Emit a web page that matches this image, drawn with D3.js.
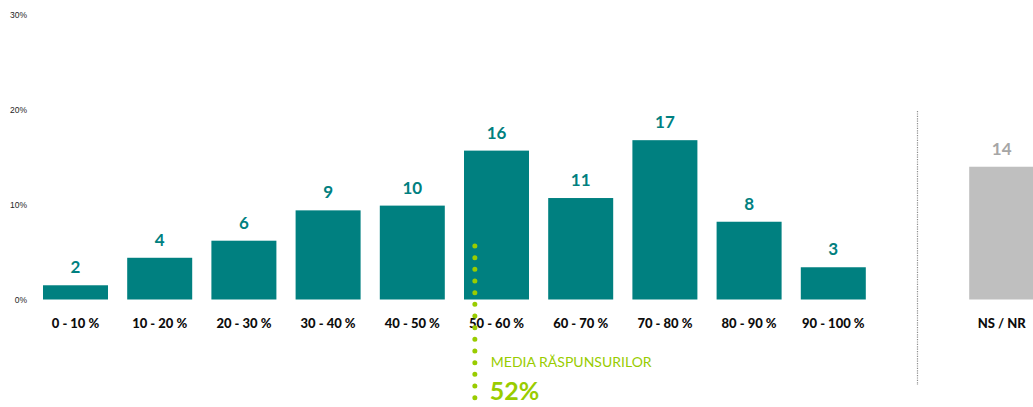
<!DOCTYPE html>
<html>
<head>
<meta charset="utf-8">
<script src="https://cdn.jsdelivr.net/npm/d3@7"></script>
<style>
	body { margin: 0; background: #fff; }
	svg { display: block; }
</style>
</head>
<body>
<svg id="chart"></svg>
<script>
// date
var categories = ["0 - 10 %", "10 - 20 %", "20 - 30 %", "30 - 40 %", "40 - 50 %", "50 - 60 %", "60 - 70 %", "70 - 80 %", "80 - 90 %", "90 - 100 %"]
var values = [1.5, 4.4, 6.2, 9.4, 9.9, 15.7, 10.7, 16.8, 8.2, 3.4]
var labels = [2, 4, 6, 9, 10, 16, 11, 17, 8, 3]
var nsCategory = "NS / NR"
var nsValue = 14
var nsLabel = 14
var yTicks = [0, 10, 20, 30]
var meanValue = 52
var meanTitle = "MEDIA RĂSPUNSURILOR"

var width = 1033,
	height = 407
var teal = "#008080",
	lime = "#99cc00",
	grey = "#bfbfbf"

var svg = d3.select("#chart")
	.attr("width", width)
	.attr("height", height)
	.style("font-family", "Lato, 'Open Sans', sans-serif")

// 10 categorii + un loc gol + NS / NR
var slots = categories.concat(["gap", nsCategory])
var x = d3.scaleBand()
	.domain(slots)
	.range([43, 1034.2])
	.paddingInner(0.228)
	.paddingOuter(0)

var y = d3.scaleLinear()
	.domain([0, 30])
	.range([299.5, 15])

// axa y, doar etichetele
var yAxis = svg.append("g")
	.attr("transform", "translate(27,0)")
	.call(d3.axisLeft(y).tickValues(yTicks).tickSize(0).tickPadding(0)
		.tickFormat(function (d) { return d + "%"; }))
yAxis.select(".domain").remove()
yAxis.selectAll("text")
	.style("font-family", "'Liberation Sans', Arial, sans-serif")
	.style("font-size", "8.5px")
	.attr("fill", "#262626")

var bars = categories.map(function (c, i) {
	return { cat: c, value: values[i], label: labels[i] }
})

svg.selectAll(".bar")
	.data(bars)
	.enter().append("rect")
	.attr("class", "bar")
	.attr("x", function (d) { return x(d.cat); })
	.attr("y", function (d) { return y(d.value); })
	.attr("width", x.bandwidth())
	.attr("height", function (d) { return y(0) - y(d.value); })
	.attr("fill", teal)

svg.selectAll(".val")
	.data(bars)
	.enter().append("text")
	.attr("class", "val")
	.attr("x", function (d) { return x(d.cat) + x.bandwidth() / 2; })
	.attr("y", function (d) { return y(d.value) - 12; })
	.attr("text-anchor", "middle")
	.style("font-size", "17px")
	.style("font-weight", "bold")
	.attr("fill", teal)
	.text(function (d) { return d.label; })

// NS / NR
svg.append("rect")
	.attr("x", x(nsCategory))
	.attr("y", y(nsValue))
	.attr("width", x.bandwidth())
	.attr("height", y(0) - y(nsValue))
	.attr("fill", grey)

svg.append("text")
	.attr("x", x(nsCategory) + x.bandwidth() / 2)
	.attr("y", y(nsValue) - 12)
	.attr("text-anchor", "middle")
	.style("font-size", "17px")
	.style("font-weight", "bold")
	.attr("fill", "#a6a6a6")
	.text(nsLabel)

// etichete categorii
svg.selectAll(".cat")
	.data(categories.concat([nsCategory]))
	.enter().append("text")
	.attr("class", "cat")
	.attr("x", function (d) { return x(d) + x.bandwidth() / 2; })
	.attr("y", 328)
	.attr("text-anchor", "middle")
	.style("font-size", "13px")
	.style("font-weight", "900")
	.attr("fill", "#0d0d0d")
	.text(function (d) { return d; })

// separator punctat
var sepX = (x(categories[categories.length - 1]) + x.bandwidth() + x(nsCategory)) / 2
svg.append("line")
	.attr("x1", sepX).attr("x2", sepX)
	.attr("y1", 111).attr("y2", 385)
	.attr("stroke", "#8c8c8c")
	.attr("stroke-width", 1.2)
	.attr("stroke-dasharray", "1.2 1.2")

// media raspunsurilor
var xMean = d3.scaleLinear()
	.domain([0, 100])
	.range([x(categories[0]), x(categories[categories.length - 1]) + x.bandwidth()])
var mx = xMean(meanValue) + 4
svg.append("line")
	.attr("x1", mx).attr("x2", mx)
	.attr("y1", 246).attr("y2", height + 10)
	.attr("stroke", lime)
	.attr("stroke-width", 5)
	.attr("stroke-linecap", "round")
	.attr("stroke-dasharray", "0 11.67")

svg.append("text")
	.attr("x", mx + 16)
	.attr("y", 367)
	.style("font-size", "14px")
	.attr("fill", lime)
	.text(meanTitle)

svg.append("text")
	.attr("x", mx + 15)
	.attr("y", 400)
	.style("font-size", "25px")
	.style("font-weight", "bold")
	.attr("fill", lime)
	.text(meanValue + "%")
</script>
</body>
</html>
